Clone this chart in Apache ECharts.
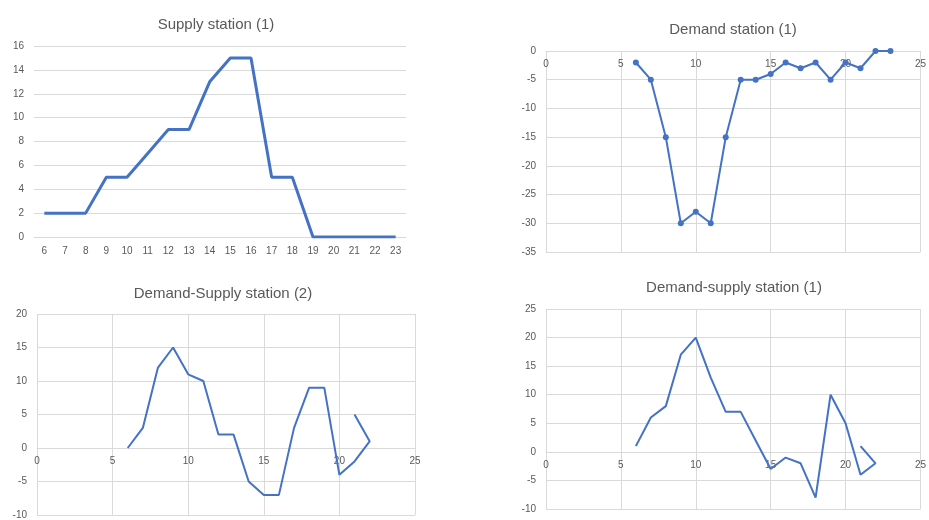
<!DOCTYPE html>
<html>
<head>
<meta charset="utf-8">
<script src="https://cdn.jsdelivr.net/npm/echarts@6/dist/echarts.min.js"></script>
<style>
  html, body { margin: 0; padding: 0; background: #fff; }
  #chart { width: 929px; height: 520px; }
</style>
</head>
<body>
<div id="chart"></div>
<script>
// Supply station (1): hourly supply
const supplyHours = ['6','7','8','9','10','11','12','13','14','15','16','17','18','19','20','21','22','23'];
const supplyValues = [2, 2, 2, 5, 5, 7, 9, 9, 13, 15, 15, 5, 5, 0, 0, 0, 0, 0];

// Demand station (1): hourly demand (negative)
const demandHours = [6, 7, 8, 9, 10, 11, 12, 13, 14, 15, 16, 17, 18, 19, 20, 21, 22, 23];
const demandValues = [-2, -5, -15, -30, -28, -30, -15, -5, -5, -4, -2, -3, -2, -5, -2, -3, 0, 0];

// Demand-Supply station (2)
const ds2Hours = [6, 7, 8, 9, 10, 11, 12, 13, 14, 15, 16, 17, 18, 19, 20, 21, 22, 21];
const ds2Values = [0, 3, 12, 15, 11, 10, 2, 2, -5, -7, -7, 3, 9, 9, -4, -2, 1, 5];

// Demand-supply station (1)
const ds1Hours = [6, 7, 8, 9, 10, 11, 12, 13, 14, 15, 16, 17, 18, 19, 20, 21, 22, 21];
const ds1Values = [1, 6, 8, 17, 20, 13, 7, 7, 2, -3, -1, -2, -8, 10, 5, -4, -2, 1];

// Value-axis ranges: [min, max, interval]
const demandRange = [-35, 0, 5];
const ds2Range = [-10, 20, 5];
const ds1Range = [-10, 25, 5];

const titles = ['Supply station (1)', 'Demand station (1)', 'Demand-Supply station (2)', 'Demand-supply station (1)'];

const FONT = '"Liberation Sans", "DejaVu Sans", sans-serif';
const TEXT = '#595959';
const GRID = '#d9d9d9';
const BLUE = '#4472c4';

const grids = [
  { left: 34, top: 46, width: 372, height: 191 },
  { left: 546, top: 51, width: 378, height: 201 },
  { left: 37, top: 314, width: 378, height: 201 },
  { left: 546, top: 309, width: 378, height: 200 }
];

function pairs(xs, ys) { return xs.map((x, i) => [x, ys[i]]); }

const labelStyle = { color: TEXT, fontSize: 10, fontFamily: FONT };

// Value x axis placed on the y = 0 line of its grid
function valueX(gridIndex, range) {
  const h = grids[gridIndex].height;
  const zeroFromBottom = h * (0 - range[0]) / (range[1] - range[0]);
  return {
    type: 'value', gridIndex, min: 0, max: 25, interval: 5,
    position: 'bottom', offset: -zeroFromBottom,
    axisLine: { show: true, onZero: false, lineStyle: { color: GRID } },
    axisTick: { show: false },
    axisLabel: Object.assign({ margin: 8 }, labelStyle),
    splitLine: { show: true, lineStyle: { color: GRID } }
  };
}
function valueY(gridIndex, range) {
  return {
    type: 'value', gridIndex, min: range[0], max: range[1], interval: range[2],
    axisLine: { show: false },
    axisTick: { show: false },
    axisLabel: Object.assign({ margin: 10 }, labelStyle),
    splitLine: { show: true, lineStyle: { color: GRID } }
  };
}

const titleCenters = [[211, 12], [728, 17], [218, 281], [729, 275]];

const option = {
  animation: false,
  backgroundColor: '#fff',
  title: titles.map((t, i) => ({
    text: t, left: titleCenters[i][0], top: titleCenters[i][1], textAlign: 'center',
    textStyle: { color: TEXT, fontSize: 15, fontWeight: 'normal', fontFamily: FONT }
  })),
  grid: grids,
  xAxis: [
    {
      type: 'category', gridIndex: 0, data: supplyHours, boundaryGap: true,
      axisLine: { lineStyle: { color: GRID } }, axisTick: { show: false },
      axisLabel: Object.assign({ margin: 9, interval: 0 }, labelStyle),
      splitLine: { show: false }
    },
    valueX(1, demandRange), valueX(2, ds2Range), valueX(3, ds1Range)
  ],
  yAxis: [
    valueY(0, [0, 16, 2]),
    valueY(1, demandRange),
    valueY(2, ds2Range),
    valueY(3, ds1Range)
  ],
  series: [
    {
      type: 'line', xAxisIndex: 0, yAxisIndex: 0, data: supplyValues,
      showSymbol: false, lineStyle: { color: BLUE, width: 3 }, itemStyle: { color: BLUE }
    },
    {
      type: 'line', xAxisIndex: 1, yAxisIndex: 1, data: pairs(demandHours, demandValues),
      symbol: 'circle', symbolSize: 6, showSymbol: true,
      lineStyle: { color: BLUE, width: 2 }, itemStyle: { color: BLUE }
    },
    {
      type: 'line', xAxisIndex: 2, yAxisIndex: 2, data: pairs(ds2Hours, ds2Values),
      showSymbol: false, lineStyle: { color: BLUE, width: 2 }, itemStyle: { color: BLUE }
    },
    {
      type: 'line', xAxisIndex: 3, yAxisIndex: 3, data: pairs(ds1Hours, ds1Values),
      showSymbol: false, lineStyle: { color: BLUE, width: 2 }, itemStyle: { color: BLUE }
    }
  ]
};

const chart = echarts.init(document.getElementById('chart'), null, { renderer: 'canvas' });
chart.setOption(option);
</script>
</body>
</html>
